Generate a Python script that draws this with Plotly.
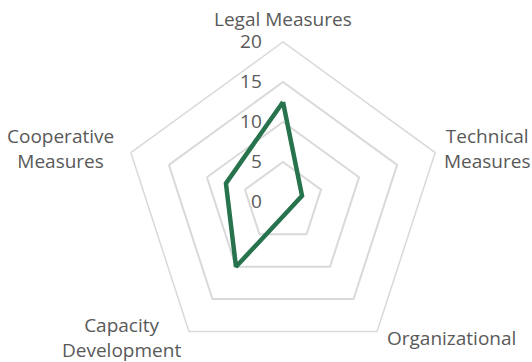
import plotly.graph_objects as go

categories = ["Legal Measures", "Technical Measures", "Organizational",
              "Capacity Development", "Cooperative Measures"]
values = [12.5, 2.5, 1.25, 10, 7.5]
radial_ticks = [0, 5, 10, 15, 20]

# label text and where Excel put it (paper px)
label_text = ["Legal Measures", "Technical<br>Measures", "Organizational",
              "Capacity<br>Development", "Cooperative<br>Measures"]
label_px = [(283, 19), (487, 148), (451, 338), (121, 337), (60, 148)]

grey = "#d9d9d9"
text_col = "#595959"
W, H = 532, 362

fig = go.Figure(go.Scatterpolar(
    r=values + values[:1],
    theta=categories + categories[:1],
    mode="lines",
    line=dict(color="#27734d", width=4.5),
    hoverinfo="skip",
))

for t, (x, y) in zip(label_text, label_px):
    fig.add_annotation(text=t, x=x / W, y=1 - y / H, xref="paper", yref="paper",
                       showarrow=False, xanchor="center", yanchor="middle",
                       font=dict(size=19, color=text_col))

fig.update_layout(
    width=W, height=H,
    margin=dict(l=0, r=0, t=0, b=0),
    paper_bgcolor="white",
    showlegend=False,
    font=dict(family="Open Sans", size=19, color=text_col),
    polar=dict(
        domain=dict(x=[123/W, 443/W], y=[0, 320/H]),
        bgcolor="white",
        gridshape="linear",
        angularaxis=dict(rotation=90, direction="clockwise",
                         showgrid=False, showline=True, linecolor=grey,
                         linewidth=1.5, ticks="", showticklabels=False),
        radialaxis=dict(range=[0, 20], tickvals=radial_ticks, angle=90,
                        tickangle=90, showline=False,
                        ticks="outside", ticklen=14, tickcolor="rgba(0,0,0,0)",
                        gridcolor=grey, gridwidth=1.5, side="counterclockwise",
                        tickfont=dict(size=19, color=text_col)),
    ),
)

fig.write_html("out.html", config={"displayModeBar": False},
               post_script="document.body.style.margin='0';")
